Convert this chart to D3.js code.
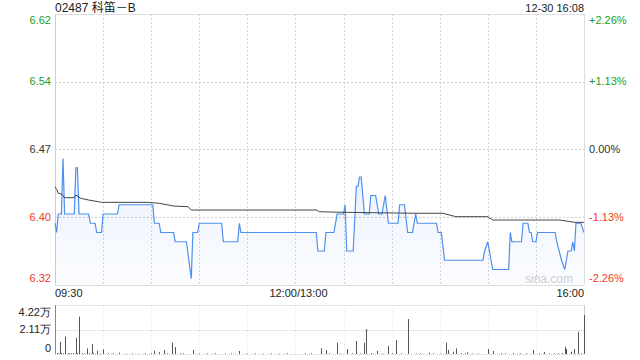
<!DOCTYPE html>
<html><head><meta charset="utf-8">
<script src="https://cdn.jsdelivr.net/npm/d3@7"></script>
<style>
body{margin:0;background:#fff;}
svg{display:block;font-family:"Liberation Sans",Arial,sans-serif;}
</style></head>
<body><svg id="c" width="640" height="360"></svg>
<script>
const title = "02487 科笛－B";
const stamp = "12-30 16:08";
const prevClose = 6.47;
const pctLevels = [2.26, 1.13, 0, -1.13, -2.26];
const priceLabels = ["6.62", "6.54", "6.47", "6.40", "6.32"];
const pctLabels = ["+2.26%", "+1.13%", "0.00%", "-1.13%", "-2.26%"];
const timeLabels = ["09:30", "12:00/13:00", "16:00"];
const timeLabelMinutes = [0, 150, 330];
const gridMinutes = [30,60,90,120,150,180,210,240,270,300];
const volMax = 42200;
const volLabels = ["4.22万", "2.11万", "0"];
const volLabelValues = [42200, 21100, 0];

// price line breakpoints (minute index, price)
const priceMinutes = [0,1,2,4,5,6,12,13,14,15,21,22,25,26,29,30,39,40,61,62,65,66,74,75,82,85,86,89,90,104,105,114,115,116,163,164,168,169,174,176,180,181,182,186,188,189,190,191,193,196,197,200,202,204,205,206,208,214,215,218,220,223,225,226,238,239,241,243,267,268,270,273,283,284,285,291,292,295,296,297,298,300,301,312,313,316,318,319,320,322,323,324,325,328,330];
const priceValues = [6.39,6.38,6.40,6.40,6.46,6.40,6.40,6.45,6.45,6.40,6.40,6.39,6.39,6.38,6.38,6.40,6.40,6.41,6.41,6.39,6.39,6.38,6.38,6.37,6.37,6.33,6.38,6.38,6.39,6.39,6.37,6.37,6.39,6.38,6.38,6.36,6.36,6.38,6.38,6.40,6.40,6.41,6.36,6.36,6.43,6.43,6.44,6.44,6.40,6.40,6.42,6.42,6.40,6.40,6.41,6.42,6.39,6.39,6.41,6.41,6.38,6.38,6.40,6.39,6.39,6.38,6.38,6.35,6.35,6.36,6.37,6.34,6.34,6.38,6.37,6.37,6.39,6.39,6.38,6.38,6.37,6.37,6.38,6.38,6.37,6.35,6.34,6.35,6.36,6.36,6.37,6.36,6.39,6.39,6.38];

// average price line breakpoints
const avgMinutes = [0,1,2,4,6,12,13,16,21,27,29,58,65,74,83,85,163,165,174,224,242,250,270,273,315,324,330];
const avgValues = [6.4295,6.4267,6.4224,6.4217,6.4176,6.4176,6.4205,6.4170,6.4151,6.4133,6.4126,6.4126,6.4116,6.4086,6.4079,6.4043,6.4043,6.4025,6.4020,6.4008,6.4008,6.3971,6.3971,6.3935,6.3935,6.3910,6.3910];

// volume bars (minute index, shares)
const volMinutes = [3,6,13,15,20,23,26,30,40,62,65,68,73,75,86,115,166,169,176,182,188,193,194,201,208,213,220,233,244,245,248,250,257,270,273,298,305,318,319,322,324,326,330,
  1,2,4,5,8,9,10,11,14,17,18,21,24,28,33,36,44,48,52,56,60,70,78,80,90,95,100,106,110,120,125,130,135,140,145,156,160,171,178,185,190,197,204,210,216,225,228,236,240,253,256,260,264,278,281,286,290,294,302,308,311,314,316,328];
const volValues = [10600,14900,14000,32100,4900,8600,2800,4000,1100,2800,1600,3400,9700,6000,3400,2600,4900,3400,9700,4300,11200,9700,21500,2600,6900,12000,30100,1100,9700,3400,2000,4900,1400,4300,2600,3400,1700,6300,4300,2000,4300,19200,33600,
  700,600,800,600,700,500,600,700,900,600,500,700,600,500,600,500,400,500,400,500,600,500,600,500,400,500,600,400,500,400,500,400,500,400,600,500,600,500,400,600,500,700,500,600,500,400,600,500,400,600,500,400,500,600,500,700,500,600,500,400,600,700,800,600];

const svg = d3.select("#c");
const L = 55, R = 584, T = 14, B = 284.5;
const x = d3.scaleLinear().domain([0, 330]).range([L, R]);
const y = d3.scaleLinear().domain([prevClose*(1-0.0226), prevClose*(1+0.0226)]).range([B, T]);
const VT = 305, VB = 354;
const yv = d3.scaleLinear().domain([0, volMax]).range([VB, VT]);

const green = "#1a9e1a", red = "#f03a2a", dark = "#333";
const pctColor = p => p > 0 ? green : (p < 0 ? red : dark);

// header
svg.append("text").attr("x", L).attr("y", 12).attr("font-size", 12).attr("fill", "#222")
  .style("font-family", "'Liberation Sans','Noto Sans CJK SC',sans-serif").text(title);
svg.append("text").attr("x", R).attr("y", 12).attr("font-size", 11).attr("fill", "#222").attr("text-anchor", "end").text(stamp);

// grid horizontal
pctLevels.forEach((p, i) => {
  const yy = Math.round(y(prevClose*(1+p/100))) + 0.5;
  if (i > 0 && i < pctLevels.length - 1) {
    svg.append("line").attr("x1", L).attr("x2", R).attr("y1", yy).attr("y2", yy)
      .attr("stroke", "#ccc").attr("stroke-dasharray", "2,2");
  }
});
// vertical grid
gridMinutes.forEach(m => {
  const xx = Math.round(x(m)) + 0.5;
  svg.append("line").attr("x1", xx).attr("x2", xx).attr("y1", T).attr("y2", B)
    .attr("stroke", "#d4d4d4").attr("stroke-dasharray", "2,2");
  svg.append("line").attr("x1", xx).attr("x2", xx).attr("y1", VT).attr("y2", VB)
    .attr("stroke", "#e4e4e4").attr("stroke-dasharray", "1,2");
});
// borders
svg.append("line").attr("x1", L).attr("x2", R).attr("y1", T+0.5).attr("y2", T+0.5).attr("stroke", "#ddd");
svg.append("line").attr("x1", L).attr("x2", R).attr("y1", Math.round(B)+0.5).attr("y2", Math.round(B)+0.5).attr("stroke", "#ddd");
svg.append("line").attr("x1", L+0.5).attr("x2", L+0.5).attr("y1", T).attr("y2", B).attr("stroke", "#ccc");
svg.append("line").attr("x1", R+0.5).attr("x2", R+0.5).attr("y1", T).attr("y2", B).attr("stroke", "#ddd");

// watermark
svg.append("text").attr("x", 573).attr("y", 283).attr("font-size", 12).attr("fill", "#d0d0d0").attr("text-anchor", "end").text("sina.com");

// price labels
pctLevels.forEach((p, i) => {
  let yy = y(prevClose*(1+p/100));
  if (i === 0) yy += 6; if (i === pctLevels.length-1) yy -= 6.5;
  svg.append("text").attr("x", 51).attr("y", yy).attr("dy", "0.35em").attr("text-anchor", "end")
    .attr("font-size", 11).attr("fill", pctColor(p)).text(priceLabels[i]);
  svg.append("text").attr("x", 589).attr("y", yy).attr("dy", "0.35em")
    .attr("font-size", 11).attr("fill", pctColor(p)).text(pctLabels[i]);
});

// area + line
const pts = priceMinutes.map((m, i) => [m, priceValues[i]]);
const defs = svg.append("defs");
const g = defs.append("linearGradient").attr("id", "fillg").attr("x1", 0).attr("x2", 0).attr("y1", 0).attr("y2", 1);
g.append("stop").attr("offset", "0%").attr("stop-color", "#5b93ee").attr("stop-opacity", 0.14);
g.append("stop").attr("offset", "100%").attr("stop-color", "#5b93ee").attr("stop-opacity", 0.02);
svg.append("path").datum(pts)
  .attr("d", d3.area().x(d => x(d[0])).y0(B).y1(d => y(d[1])))
  .attr("fill", "url(#fillg)");
svg.append("path").datum(pts)
  .attr("d", d3.line().x(d => x(d[0])).y(d => y(d[1])))
  .attr("fill", "none").attr("stroke", "#4f8ff0").attr("stroke-width", 1.2);

const apts = avgMinutes.map((m, i) => [m, avgValues[i]]);
svg.append("path").datum(apts)
  .attr("d", d3.line().x(d => x(d[0])).y(d => y(d[1])))
  .attr("fill", "none").attr("stroke", "#444").attr("stroke-width", 1);

// time labels
timeLabels.forEach((t, i) => {
  const anchor = i === 0 ? "start" : (i === timeLabels.length-1 ? "end" : "middle");
  const xx = i === 1 ? x(timeLabelMinutes[i]) + 3 : x(timeLabelMinutes[i]);
  svg.append("text").attr("x", xx).attr("y", 297).attr("text-anchor", anchor)
    .attr("font-size", 11).attr("fill", "#222").text(t);
});

// volume panel
[VT, (VT+VB)/2, VB].forEach(yy => {
  svg.append("line").attr("x1", L).attr("x2", R).attr("y1", Math.round(yy)+0.5).attr("y2", Math.round(yy)+0.5)
    .attr("stroke", "#ccc").attr("stroke-dasharray", "1,1");
});
svg.append("line").attr("x1", L+0.5).attr("x2", L+0.5).attr("y1", VT).attr("y2", VB).attr("stroke", "#888");
svg.append("line").attr("x1", R+0.5).attr("x2", R+0.5).attr("y1", VT).attr("y2", VB).attr("stroke", "#ccc");
volLabelValues.forEach((v, i) => {
  let yy = yv(v);
  if (i === 0) yy += 7; if (i === volLabelValues.length-1) yy -= 6;
  svg.append("text").attr("x", 51).attr("y", yy).attr("dy", "0.35em").attr("text-anchor", "end")
    .attr("font-size", 11).attr("fill", "#222").text(volLabels[i]);
});
svg.append("g").selectAll("line").data(volMinutes.map((m, i) => [m, volValues[i]])).join("line")
  .attr("x1", d => Math.round(x(d[0])) + 0.5).attr("x2", d => Math.round(x(d[0])) + 0.5)
  .attr("y1", VB).attr("y2", d => yv(d[1]))
  .attr("stroke", "#555").attr("stroke-width", 1);
</script></body></html>
